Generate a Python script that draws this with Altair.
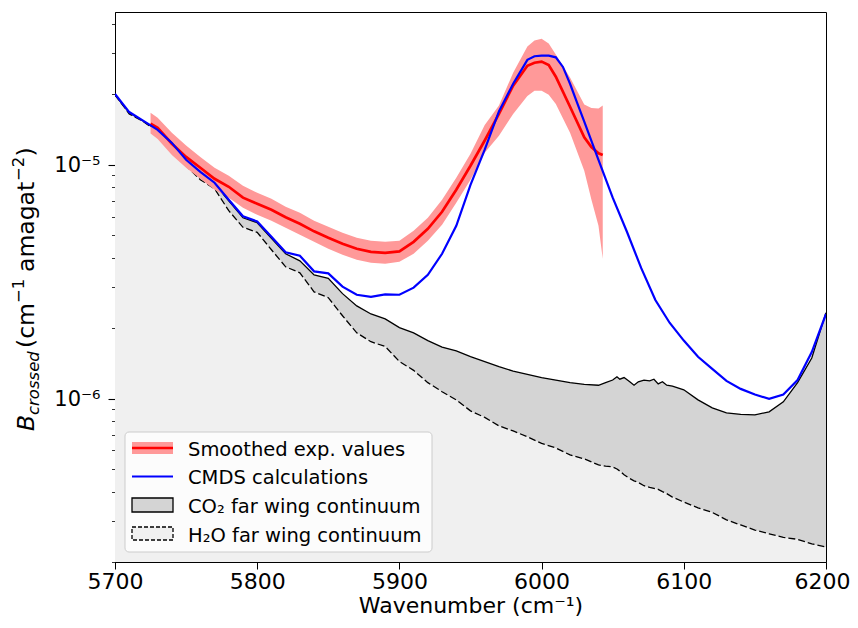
import altair as alt
import pandas as pd

# ---------------- data ----------------
wn_calc = [5700, 5710, 5720, 5730, 5740, 5750, 5760, 5770, 5780, 5790, 5800,
           5810, 5820, 5830, 5840, 5850, 5860, 5870, 5880, 5890, 5900, 5910,
           5920, 5930, 5940, 5950, 5960, 5970, 5980, 5990, 5995, 6000, 6005,
           6010, 6015, 6020, 6025, 6030, 6040, 6050, 6060, 6070, 6080, 6090,
           6100, 6110, 6120, 6130, 6140, 6150, 6160, 6170, 6180, 6190, 6200]
cmds_calc = [2.01e-5, 1.68e-5, 1.54e-5, 1.41e-5, 1.24e-5, 1.05e-5, 9.33e-6, 8.38e-6,
             7.08e-6, 6.02e-6, 5.72e-6, 4.92e-6, 4.22e-6, 4.08e-6, 3.50e-6, 3.43e-6,
             3.01e-6, 2.78e-6, 2.72e-6, 2.79e-6, 2.78e-6, 2.98e-6, 3.38e-6, 4.16e-6,
             5.48e-6, 8.21e-6, 1.16e-5, 1.69e-5, 2.22e-5, 2.81e-5, 2.91e-5, 2.93e-5,
             2.93e-5, 2.88e-5, 2.62e-5, 2.22e-5, 1.84e-5, 1.53e-5, 1.05e-5, 7.23e-6,
             5.17e-6, 3.62e-6, 2.64e-6, 2.11e-6, 1.77e-6, 1.51e-6, 1.34e-6, 1.19e-6,
             1.10e-6, 1.04e-6, 9.97e-7, 1.04e-6, 1.20e-6, 1.58e-6, 2.30e-6]

wn_exp = [5725, 5730, 5740, 5750, 5760, 5770, 5780, 5790, 5800, 5810, 5820, 5830,
          5840, 5850, 5860, 5870, 5880, 5890, 5900, 5910, 5920, 5930, 5940, 5950,
          5960, 5970, 5980, 5990, 5995, 6000, 6005, 6010, 6020, 6030, 6035, 6040,
          6043]
exp_smooth = [1.50e-5, 1.44e-5, 1.23e-5, 1.08e-5, 9.71e-6, 8.71e-6, 8.05e-6, 7.23e-6,
              6.81e-6, 6.42e-6, 5.96e-6, 5.59e-6, 5.19e-6, 4.87e-6, 4.59e-6, 4.37e-6,
              4.24e-6, 4.20e-6, 4.26e-6, 4.68e-6, 5.32e-6, 6.29e-6, 7.82e-6, 9.90e-6,
              1.27e-5, 1.65e-5, 2.18e-5, 2.65e-5, 2.73e-5, 2.76e-5, 2.67e-5, 2.38e-5,
              1.77e-5, 1.31e-5, 1.19e-5, 1.12e-5, 1.10e-5]
exp_upper = [1.67e-5, 1.59e-5, 1.37e-5, 1.21e-5, 1.08e-5, 9.71e-6, 8.97e-6, 8.13e-6,
             7.59e-6, 7.15e-6, 6.61e-6, 6.23e-6, 5.76e-6, 5.43e-6, 5.12e-6, 4.87e-6,
             4.73e-6, 4.68e-6, 4.73e-6, 5.22e-6, 5.93e-6, 7.08e-6, 8.80e-6, 1.115e-5,
             1.48e-5, 1.79e-5, 2.475e-5, 3.20e-5, 3.40e-5, 3.46e-5, 3.30e-5, 2.96e-5,
             2.36e-5, 1.81e-5, 1.75e-5, 1.74e-5, 1.79e-5]
exp_lower = [1.36e-5, 1.29e-5, 1.10e-5, 9.71e-6, 8.71e-6, 7.82e-6, 7.23e-6, 6.55e-6,
             6.11e-6, 5.76e-6, 5.38e-6, 5.02e-6, 4.68e-6, 4.37e-6, 4.12e-6, 3.92e-6,
             3.81e-6, 3.77e-6, 3.85e-6, 4.16e-6, 4.73e-6, 5.54e-6, 6.88e-6, 8.63e-6,
             1.125e-5, 1.33e-5, 1.65e-5, 1.97e-5, 2.07e-5, 2.07e-5, 1.99e-5, 1.82e-5,
             1.37e-5, 9.43e-6, 7.10e-6, 5.48e-6, 3.96e-6]

wn_cont = [5700, 5710, 5720, 5730, 5740, 5750, 5760, 5770, 5780, 5790, 5800, 5810,
           5820, 5830, 5840, 5850, 5860, 5870, 5880, 5890, 5900, 5910, 5920, 5930,
           5940, 5950, 5960, 5970, 5980, 5990, 6000, 6010, 6020, 6030, 6040, 6045,
           6050, 6053, 6055, 6058, 6062, 6065, 6068, 6072, 6076, 6079, 6082, 6085,
           6088, 6092, 6100, 6110, 6120, 6130, 6140, 6150, 6160, 6170, 6180, 6190,
           6200]
h2o_cont = [1.99e-5, 1.65e-5, 1.53e-5, 1.38e-5, 1.18e-5, 9.90e-6, 8.63e-6, 7.90e-6,
            6.36e-6, 5.40e-6, 5.14e-6, 4.33e-6, 3.66e-6, 3.45e-6, 2.86e-6, 2.70e-6,
            2.26e-6, 1.91e-6, 1.75e-6, 1.67e-6, 1.44e-6, 1.32e-6, 1.17e-6, 1.07e-6,
            9.87e-7, 8.86e-7, 8.31e-7, 7.64e-7, 7.27e-7, 6.86e-7, 6.43e-7, 6.15e-7,
            5.74e-7, 5.52e-7, 5.20e-7, 5.14e-7, 5.10e-7, 5.00e-7, 4.90e-7, 4.72e-7,
            4.55e-7, 4.45e-7, 4.38e-7, 4.24e-7, 4.17e-7, 4.13e-7, 4.09e-7, 4.00e-7,
            3.92e-7, 3.79e-7, 3.61e-7, 3.41e-7, 3.26e-7, 3.03e-7, 2.88e-7, 2.74e-7,
            2.64e-7, 2.55e-7, 2.50e-7, 2.39e-7, 2.32e-7]
total_cont = [1.99e-5, 1.67e-5, 1.535e-5, 1.40e-5, 1.23e-5, 1.04e-5, 9.24e-6, 8.29e-6,
              7.01e-6, 5.93e-6, 5.65e-6, 4.85e-6, 4.16e-6, 3.88e-6, 3.38e-6, 3.27e-6,
              2.81e-6, 2.49e-6, 2.30e-6, 2.19e-6, 2.01e-6, 1.91e-6, 1.77e-6, 1.66e-6,
              1.60e-6, 1.51e-6, 1.44e-6, 1.37e-6, 1.31e-6, 1.27e-6, 1.23e-6, 1.20e-6,
              1.17e-6, 1.15e-6, 1.14e-6, 1.17e-6, 1.20e-6, 1.24e-6, 1.21e-6, 1.23e-6,
              1.18e-6, 1.14e-6, 1.18e-6, 1.20e-6, 1.19e-6, 1.21e-6, 1.155e-6, 1.18e-6,
              1.14e-6, 1.13e-6, 1.09e-6, 9.87e-7, 9.12e-7, 8.69e-7, 8.56e-7, 8.52e-7,
              8.77e-7, 9.68e-7, 1.17e-6, 1.49e-6, 2.33e-6]

x_ticks = [5700, 5800, 5900, 6000, 6100, 6200]
y_major = [1e-6, 1e-5]
y_minor = [2e-7, 3e-7, 4e-7, 5e-7, 6e-7, 7e-7, 8e-7, 9e-7,
           2e-6, 3e-6, 4e-6, 5e-6, 6e-6, 7e-6, 8e-6, 9e-6,
           2e-5, 3e-5, 4e-5]
y_floor = 2e-7
legend_labels = ["Smoothed exp. values", "CMDS calculations",
                 "CO₂ far wing continuum", "H₂O far wing continuum"]

# ---------------- tables ----------------
calc_df = pd.DataFrame({"wn": wn_calc, "B": cmds_calc})
exp_df = pd.DataFrame({"wn": wn_exp, "B": exp_smooth, "hi": exp_upper, "lo": exp_lower})
cont_df = pd.DataFrame({"wn": wn_cont, "h2o": h2o_cont, "tot": total_cont, "floor": y_floor})

FONT = "DejaVu Sans"
W, H = 711, 550

xs = alt.Scale(domain=[5700, 6200], nice=False, zero=False)
ys = alt.Scale(type="log", domain=[2e-7, 4.5e-5], nice=False)

major_test = "datum.value == 0.000001 || datum.value == 0.00001"
x_axis = alt.Axis(values=x_ticks, format="d", title="Wavenumber (cm⁻¹)",
                  titleFont=FONT, titleFontSize=22, titleFontWeight="normal",
                  titleColor="black", titleY=50, titleBaseline="alphabetic",
                  labelFont=FONT, labelFontSize=22, labelColor="black",
                  labelPadding=2, tickSize=7, tickColor="black", tickWidth=1,
                  labelOffset={"condition": {"test": "datum.value == 6200", "value": -4},
                               "value": 0},
                  domainColor="black", grid=False, labelFlush=False)
y_axis = alt.Axis(values=y_major + y_minor, title=None,
                  labelExpr="datum.value == 0.00001 ? '10⁻⁵' : (datum.value == 0.000001 ? '10⁻⁶' : '')",
                  labelFont=FONT, labelFontSize=21, labelColor="black",
                  labelPadding=8, labelOffset=1,
                  tickSize={"condition": {"test": major_test, "value": 7}, "value": 3.5},
                  tickWidth={"condition": {"test": major_test, "value": 1.1}, "value": 0.8},
                  tickColor="black", domainColor="black", grid=False)

def X():
    return alt.X("wn:Q", scale=xs, axis=x_axis)

light = alt.Chart(cont_df).mark_area(color="#f0f0f0", clip=True).encode(
    x=X(), y=alt.Y("h2o:Q", scale=ys, axis=y_axis), y2="floor:Q")
dark = alt.Chart(cont_df).mark_area(color="#d4d4d4", clip=True).encode(
    x=X(), y=alt.Y("tot:Q", scale=ys, axis=y_axis), y2="h2o:Q")
dashed = alt.Chart(cont_df).mark_line(color="black", strokeWidth=1.3,
                                      strokeDash=[7, 3], clip=True).encode(
    x=X(), y=alt.Y("h2o:Q", scale=ys, axis=y_axis))
solid = alt.Chart(cont_df).mark_line(color="black", strokeWidth=1.3, clip=True).encode(
    x=X(), y=alt.Y("tot:Q", scale=ys, axis=y_axis))
band = alt.Chart(exp_df).mark_area(color="#ff9999", opacity=1, clip=True).encode(
    x=X(), y=alt.Y("hi:Q", scale=ys, axis=y_axis), y2="lo:Q")
red = alt.Chart(exp_df).mark_line(color="#ff0000", strokeWidth=2.7, clip=True).encode(
    x=X(), y=alt.Y("B:Q", scale=ys, axis=y_axis))
blue = alt.Chart(calc_df).mark_line(color="#0000ff", strokeWidth=2.2, clip=True).encode(
    x=X(), y=alt.Y("B:Q", scale=ys, axis=y_axis))

one = pd.DataFrame({"k": [0]})

# legend
leg_box = alt.Chart(one).mark_rect(fill="white", fillOpacity=0.8, stroke="#cccccc",
                                   strokeWidth=1, cornerRadius=4).encode(
    x=alt.value(10), x2=alt.value(317), y=alt.value(420), y2=alt.value(540))
leg_band = alt.Chart(one).mark_rect(fill="#ff9999").encode(
    x=alt.value(17), x2=alt.value(58), y=alt.value(430), y2=alt.value(442))
leg_red = alt.Chart(one).mark_rule(color="#ff0000", strokeWidth=2.7).encode(
    x=alt.value(17), x2=alt.value(58), y=alt.value(436))
leg_blue = alt.Chart(one).mark_rule(color="#0000ff", strokeWidth=2.2).encode(
    x=alt.value(17), x2=alt.value(58), y=alt.value(464.5))
leg_co2 = alt.Chart(one).mark_rect(fill="#d4d4d4", stroke="black", strokeWidth=1.3).encode(
    x=alt.value(17), x2=alt.value(58), y=alt.value(486), y2=alt.value(500))
leg_h2o = alt.Chart(one).mark_rect(fill="#f0f0f0", stroke="black", strokeWidth=1.3,
                                   strokeDash=[4, 2]).encode(
    x=alt.value(17), x2=alt.value(58), y=alt.value(515), y2=alt.value(528))

leg_texts = []
for lab, yb in zip(legend_labels, [443.5, 472, 501, 529.5]):
    leg_texts.append(
        alt.Chart(pd.DataFrame({"t": [lab]})).mark_text(
            font=FONT, fontSize=19.5, color="black", align="left",
            baseline="alphabetic").encode(x=alt.value(73), y=alt.value(yb), text="t:N"))

# y-axis title (rotated; italic B with subscript, superscript exponents)
def ytext(s, size, xpos, ypos, italic=False):
    kw = dict(font=FONT, fontSize=size, angle=270, align="left",
              baseline="alphabetic", color="black")
    if italic:
        kw["fontStyle"] = "italic"
    return alt.Chart(pd.DataFrame({"t": [s]})).mark_text(**kw).encode(
        x=alt.value(xpos), y=alt.value(ypos), text="t:N")

ybase = -81.5
y_title = [
    ytext("B", 23.5, ybase, 419, True),
    ytext("crossed", 16.5, ybase + 5, 403, True),
    ytext("(cm", 23.5, ybase, 336),
    ytext("−1", 16.5, ybase - 9.5, 291),
    ytext("amagat", 23.5, ybase, 260),
    ytext("−2", 16.5, ybase - 9.5, 169),
    ytext(")", 23.5, ybase, 144.5),
]

chart = alt.layer(
    light, dark, dashed, solid, band, red, blue,
    leg_box, leg_band, leg_red, leg_blue, leg_co2, leg_h2o, *leg_texts,
    *y_title
).properties(
    width=W, height=H,
    autosize=alt.AutoSizeParams(type="none"),
    padding={"left": 107, "top": 4, "right": 24, "bottom": 58},
    background="white",
).configure_view(stroke="black", strokeWidth=1)

chart.save("out.html", embed_options={"renderer": "svg", "actions": False})
